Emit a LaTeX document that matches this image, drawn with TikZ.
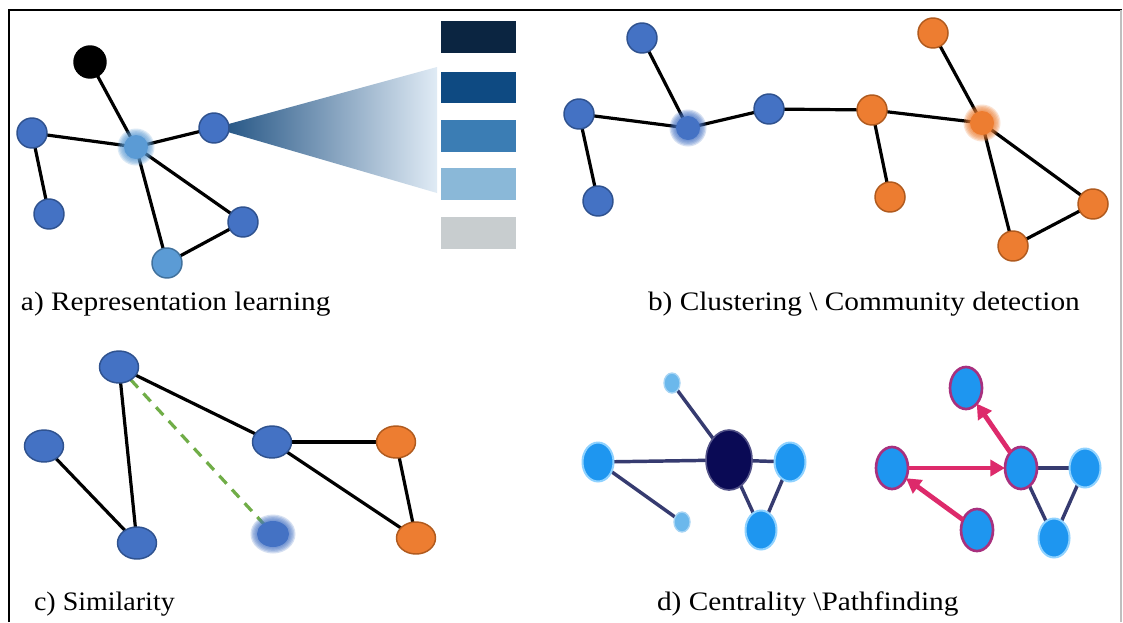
\documentclass[tikz,border=0pt]{standalone}
\usepackage{fontspec}
\setmainfont{Liberation Serif}
\usepackage{graphicx}
\usetikzlibrary{shapes.geometric,arrows.meta}
\pgfdeclarelayer{back}
\pgfdeclarelayer{bg}
\pgfsetlayers{back,bg,main}
\definecolor{nblue}{HTML}{4472C4}
\definecolor{nblueD}{HTML}{2F528F}
\definecolor{lblue}{HTML}{5B9BD5}
\definecolor{lblueD}{HTML}{41719C}
\definecolor{norange}{HTML}{ED7D31}
\definecolor{norangeD}{HTML}{B05A1E}
\definecolor{dgreen}{HTML}{70AD47}
\definecolor{cyanb}{HTML}{1E96F0}
\definecolor{cyanh}{HTML}{8FD2FF}
\definecolor{cyans}{HTML}{6BB8EC}
\definecolor{navy}{HTML}{0A0A55}
\definecolor{dedge}{HTML}{363B70}
\definecolor{magarrow}{HTML}{DD2A6B}
\definecolor{magring}{HTML}{A8307E}
\definecolor{fanL}{HTML}{1D4F80}
\definecolor{fanM}{HTML}{86AACE}
\definecolor{fanR}{HTML}{E0EBF5}
\definecolor{barA}{HTML}{0B2541}
\definecolor{barB}{HTML}{0E4A82}
\definecolor{barC}{HTML}{3B7DB4}
\definecolor{barD}{HTML}{8AB8D8}
\definecolor{barE}{HTML}{C8CDCF}
\newcommand{\fuzzy}[4]{%
  \foreach \k in {0,...,5}{\fill[#2,opacity=0.22] (#1.center) ellipse [x radius={(#3-3+1.3*\k)*0.75pt}, y radius={(#4-3+1.3*\k)*0.75pt}];}
  \fill[#2] (#1.center) ellipse [x radius={(#3-3)*0.75pt}, y radius={(#4-3)*0.75pt}];}
\begin{document}
\begin{tikzpicture}[x=0.75pt,y=-0.75pt,
  every node/.style={inner sep=0pt,outer sep=0pt},
  bnode/.style={circle,minimum size=30*0.75pt,fill=nblue,draw=nblueD,line width=1.1pt},
  onode/.style={circle,minimum size=30*0.75pt,fill=norange,draw=norangeD,line width=1.1pt},
  fz/.style={circle,minimum size=30*0.75pt},
  cb/.style={ellipse,minimum width=39*0.75pt,minimum height=32*0.75pt,fill=nblue,draw=nblueD,line width=1.1pt},
  co/.style={ellipse,minimum width=39*0.75pt,minimum height=32*0.75pt,fill=norange,draw=norangeD,line width=1.1pt},
  dn/.style={ellipse,minimum width=31*0.75pt,minimum height=39*0.75pt,fill=cyanb,draw=cyanh,line width=1.5pt},
  dsm/.style={ellipse,minimum width=16*0.75pt,minimum height=20*0.75pt,fill=cyans,draw=cyans!60!white,line width=1pt},
  mn/.style={ellipse,minimum width=32*0.75pt,minimum height=42*0.75pt,fill=cyanb,draw=magring,line width=2pt},
  lnk/.style={line width=2.4pt,black},
  dlnk/.style={line width=2.6pt,dedge},
  marr/.style={line width=3.6pt,magarrow,-{Triangle[length=11pt,width=12pt]}},
  lbl/.style={anchor=base west,font=\fontsize{20}{24}\selectfont}]
\useasboundingbox (0,0) rectangle (1123,622);
\begin{pgfonlayer}{back}
\fill[white] (0,0) rectangle (1123,622);
\end{pgfonlayer}
% frame
\draw[line width=1.6pt,black] (9,622) -- (9,10) -- (1122,10);
\draw[line width=1pt,black!25] (1121,10) -- (1121,622);

% ---------- panel a ----------
\node[bnode,fill=black,draw=black,minimum size=32*0.75pt] (a0) at (90,62) {};
\node[bnode] (a1) at (32,133) {};
\node[bnode] (a2) at (49,214) {};
\node[fz] (a3) at (136,147) {};
\node[bnode] (a4) at (214,128) {};
\node[bnode] (a5) at (243,222) {};
\node[bnode,fill=lblue,draw=lblueD] (a6) at (167,263) {};
\fuzzy{a3}{lblue}{15}{15}
\begin{pgfonlayer}{bg}
  \shade[left color=fanL,middle color=fanM,right color=fanR] (a4.center) -- (437,67) -- (437,193) -- cycle;
  \draw[lnk] (a0.center) -- (a3.center);
  \draw[lnk] (a1.center) -- (a3.center);
  \draw[lnk] (a1.center) -- (a2.center);
  \draw[lnk] (a3.center) -- (a4.center);
  \draw[lnk] (a3.center) -- (a5.center);
  \draw[lnk] (a3.center) -- (a6.center);
  \draw[lnk] (a5.center) -- (a6.center);
\end{pgfonlayer}
% bars
\fill[barA] (441,21) rectangle (516,53);
\fill[barB] (441,72) rectangle (516,103);
\fill[barC] (441,120) rectangle (516,152);
\fill[barD] (441,168) rectangle (516,200);
\fill[barE] (441,217) rectangle (516,249);
\node[lbl] (la) at (21,310) {\scalebox{1.1}[1]{a) Representation learning}};

% ---------- panel b ----------
\node[bnode] (b1) at (642,38) {};
\node[bnode] (b2) at (579,114) {};
\node[bnode] (b3) at (598,201) {};
\node[fz] (b4) at (688,128) {};
\node[bnode] (b5) at (769,109) {};
\node[onode] (b6) at (872,110) {};
\node[onode] (b7) at (890,197) {};
\node[onode] (b8) at (933,33) {};
\node[fz] (b9) at (982,123) {};
\node[onode] (b10) at (1093,204) {};
\node[onode] (b11) at (1013,246) {};
\fuzzy{b4}{nblue}{15}{15}
\fuzzy{b9}{norange}{15}{15}
\begin{pgfonlayer}{bg}
  \draw[lnk] (b1.center) -- (b4.center);
  \draw[lnk] (b2.center) -- (b4.center);
  \draw[lnk] (b2.center) -- (b3.center);
  \draw[lnk] (b4.center) -- (b5.center);
  \draw[lnk] (b5.center) -- (b6.center);
  \draw[lnk] (b6.center) -- (b7.center);
  \draw[lnk] (b6.center) -- (b9.center);
  \draw[lnk] (b8.center) -- (b9.center);
  \draw[lnk] (b9.center) -- (b10.center);
  \draw[lnk] (b9.center) -- (b11.center);
  \draw[lnk] (b10.center) -- (b11.center);
\end{pgfonlayer}
\node[lbl] (lb) at (648,310) {\scalebox{1.1}[1]{b) Clustering \textbackslash{} Community detection}};

% ---------- panel c ----------
\node[cb] (c1) at (119,367) {};
\node[cb] (c2) at (44,446) {};
\node[cb] (c3) at (137,543) {};
\node[cb] (c4) at (272,442) {};
\node[fz] (c5) at (273,534) {};
\node[co] (c6) at (396,442) {};
\node[co] (c7) at (416,538) {};
\fuzzy{c5}{nblue}{19}{16}
\begin{pgfonlayer}{bg}
  \draw[lnk] (c2.center) -- (c3.center);
  \draw[lnk] (c1.center) -- (c3.center);
  \draw[lnk] (c1.center) -- (c4.center);
  \draw[lnk] (c4.center) -- (c6.center);
  \draw[lnk] (c4.center) -- (c7.center);
  \draw[lnk] (c6.center) -- (c7.center);
  \draw[line width=2.4pt,dgreen,dash pattern=on 8pt off 6pt] (c1) -- (c5.center);
\end{pgfonlayer}
\node[lbl] (lc) at (34,610) {\scalebox{1.05}[1]{c) Similarity}};

% ---------- panel d ----------
\node[dsm] (d1) at (672,383) {};
\node[dn] (d2) at (598,462) {};
\node[ellipse,minimum width=46*0.75pt,minimum height=60*0.75pt,fill=navy,draw=navy!70!white,line width=1.2pt] (d3) at (729,460) {};
\node[dn] (d4) at (790,462) {};
\node[dn] (d5) at (761,530) {};
\node[dsm] (d6) at (682,522) {};
\begin{pgfonlayer}{bg}
  \draw[dlnk] (d1.center) -- (d3.center);
  \draw[dlnk] (d2.center) -- (d3.center);
  \draw[dlnk] (d2.center) -- (d6.center);
  \draw[dlnk] (d3.center) -- (d4.center);
  \draw[dlnk] (d3.center) -- (d5.center);
  \draw[dlnk] (d4.center) -- (d5.center);
\end{pgfonlayer}

\node[mn] (e1) at (892,468) {};
\node[mn] (e2) at (966,388) {};
\node[mn] (e3) at (977,530) {};
\node[mn] (e4) at (1021,468) {};
\node[dn] (e5) at (1085,468) {};
\node[dn] (e6) at (1054,538) {};
\begin{pgfonlayer}{bg}
  \draw[dlnk] (e4.center) -- (e5.center);
  \draw[dlnk] (e4.center) -- (e6.center);
  \draw[dlnk] (e5.center) -- (e6.center);
\end{pgfonlayer}
\draw[marr] (e1) -- (e4);
\draw[marr] (e3) -- (e1);
\draw[marr] (e4) -- (e2);
\node[lbl] (ld) at (657,610) {\scalebox{1.1}[1]{d) Centrality \textbackslash Pathfinding}};
\end{tikzpicture}
\end{document}
